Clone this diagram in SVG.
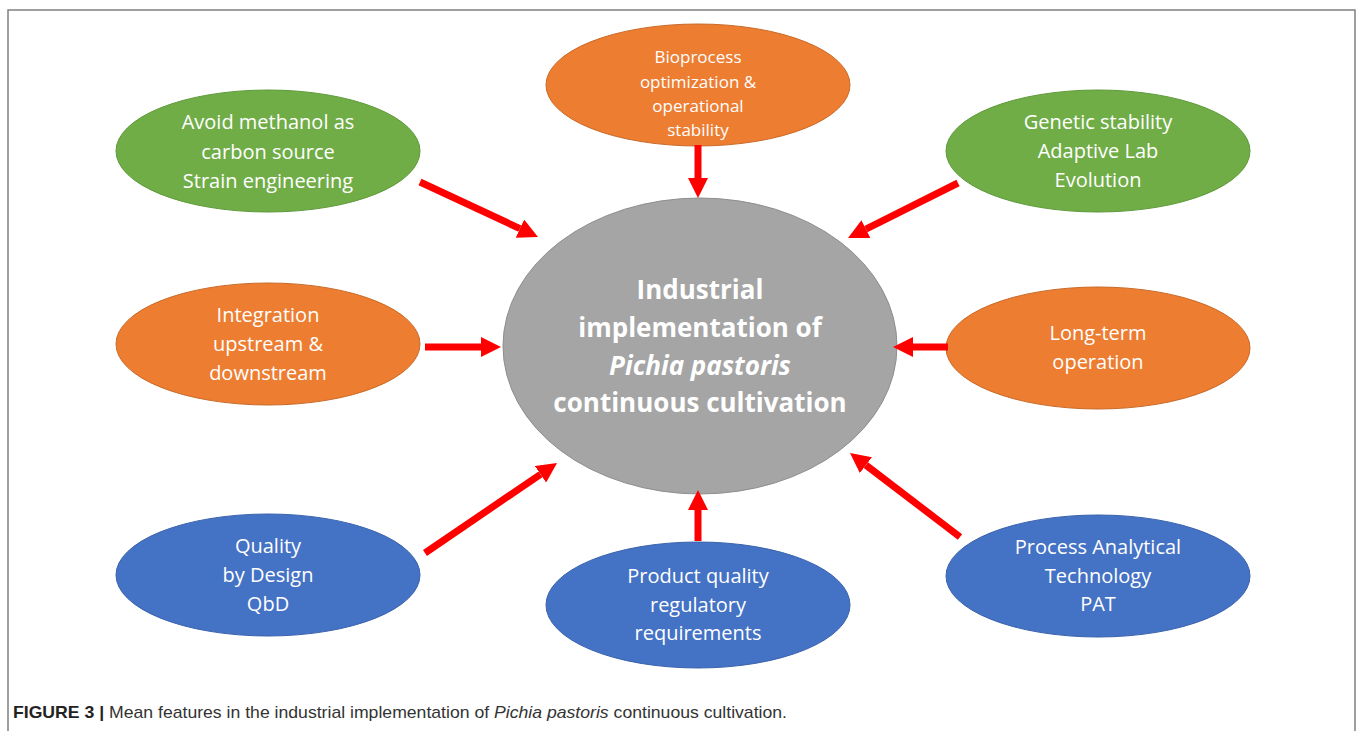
<svg xmlns="http://www.w3.org/2000/svg" width="1358" height="731" viewBox="0 0 1358 731">
<defs>
<marker id="ah" markerUnits="userSpaceOnUse" markerWidth="20" markerHeight="20" viewBox="0 0 20 20" refX="0" refY="10" orient="auto">
<path d="M0,0 L20,10 L0,20 z" fill="#FF0000"/>
</marker>
<style>
.node ellipse{stroke-width:1}
.g ellipse{fill:#70AD47;stroke:#5E9A3A}
.o ellipse{fill:#ED7D31;stroke:#C96A28}
.b ellipse{fill:#4472C4;stroke:#3A63AD}
.c ellipse{fill:#A5A5A5;stroke:#8E8E8E}
.node text{font-family:"Open Sans","Liberation Sans",sans-serif;fill:#FFFFFF;text-anchor:middle;font-size:20px}
.o text.s{font-size:17px}
.c text{font-size:26px;font-weight:bold}
.conn line{stroke:#FF0000;stroke-width:7;marker-end:url(#ah)}
.cap{font-family:"Liberation Sans",Arial,sans-serif;font-size:17px;fill:#333333}
</style>
</defs>
<rect x="0" y="0" width="1358" height="731" fill="#FFFFFF"/>
<path d="M8,731 L8,10 L1355,10 L1355,731" fill="none" stroke="#808080" stroke-width="1.5"/>

<g id="center" class="node c">
<ellipse cx="700" cy="346" rx="197" ry="148"/>
<text x="700" y="299">Industrial</text>
<text x="700" y="337">implementation of</text>
<text x="700" y="375" font-style="italic">Pichia pastoris</text>
<text x="700" y="412">continuous cultivation</text>
</g>

<g id="n-avoid" class="node g">
<ellipse cx="268" cy="151" rx="152" ry="61"/>
<text x="268" y="129">Avoid methanol as</text>
<text x="268" y="159">carbon source</text>
<text x="268" y="188">Strain engineering</text>
</g>

<g id="n-bioprocess" class="node o">
<ellipse cx="698" cy="85" rx="152" ry="61"/>
<text class="s" x="698" y="63">Bioprocess</text>
<text class="s" x="698" y="88">optimization &amp;</text>
<text class="s" x="698" y="112">operational</text>
<text class="s" x="698" y="136">stability</text>
</g>

<g id="n-genetic" class="node g">
<ellipse cx="1098" cy="151" rx="152" ry="61"/>
<text x="1098" y="129">Genetic stability</text>
<text x="1098" y="158">Adaptive Lab</text>
<text x="1098" y="187">Evolution</text>
</g>

<g id="n-integration" class="node o">
<ellipse cx="268" cy="344" rx="152" ry="61"/>
<text x="268" y="322">Integration</text>
<text x="268" y="351">upstream &amp;</text>
<text x="268" y="380">downstream</text>
</g>

<g id="n-longterm" class="node o">
<ellipse cx="1098" cy="348" rx="152" ry="61"/>
<text x="1098" y="340">Long-term</text>
<text x="1098" y="369">operation</text>
</g>

<g id="n-qbd" class="node b">
<ellipse cx="268" cy="575" rx="152" ry="61"/>
<text x="268" y="553">Quality</text>
<text x="268" y="582">by Design</text>
<text x="268" y="611">QbD</text>
</g>

<g id="n-product" class="node b">
<ellipse cx="698" cy="605" rx="152" ry="63"/>
<text x="698" y="583">Product quality</text>
<text x="698" y="612">regulatory</text>
<text x="698" y="640">requirements</text>
</g>

<g id="n-pat" class="node b">
<ellipse cx="1098" cy="576" rx="152" ry="61"/>
<text x="1098" y="554">Process Analytical</text>
<text x="1098" y="583">Technology</text>
<text x="1098" y="611">PAT</text>
</g>

<g id="connectors" class="conn">
<line x1="420" y1="182" x2="519.9" y2="228.6"/>
<line x1="698" y1="145" x2="698" y2="178"/>
<line x1="958" y1="183" x2="865.9" y2="229.1"/>
<line x1="425" y1="347" x2="481" y2="347"/>
<line x1="948" y1="347" x2="913" y2="347"/>
<line x1="425" y1="553" x2="540.5" y2="474.3"/>
<line x1="698" y1="541" x2="698" y2="510"/>
<line x1="960" y1="537" x2="865.9" y2="465.1"/>
</g>

<text class="cap" x="13" y="718" textLength="774" lengthAdjust="spacingAndGlyphs"><tspan font-weight="bold" fill="#222222">FIGURE 3 | </tspan>Mean features in the industrial implementation of <tspan font-style="italic">Pichia pastoris</tspan> continuous cultivation.</text>
</svg>
